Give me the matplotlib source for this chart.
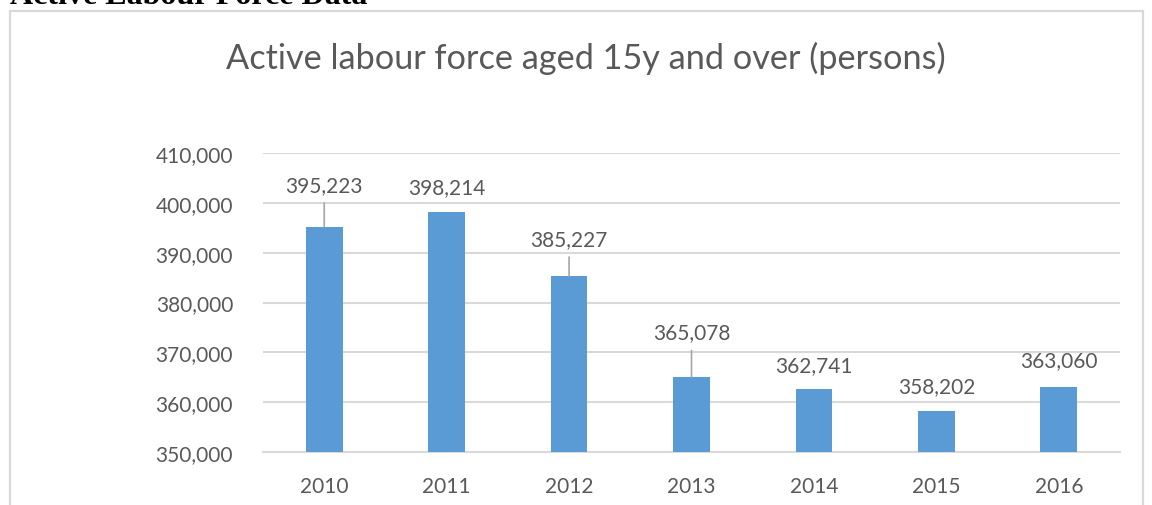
import matplotlib
matplotlib.use("Agg")
import matplotlib.pyplot as plt
from matplotlib.patches import Rectangle
from matplotlib.ticker import FuncFormatter

years = ["2010", "2011", "2012", "2013", "2014", "2015", "2016"]
labour_force = [395223, 398214, 385227, 365078, 362741, 358202, 363060]
y_ticks = [350000, 360000, 370000, 380000, 390000, 400000, 410000]

# label offset above each bar (points) and whether a leader line is drawn
label_offsets = [30, 18, 27, 32, 17, 18, 19]
leaders = [True, False, True, True, False, False, False]

plt.rcParams["font.family"] = ["Lato", "DejaVu Sans"]
text_col = "#595959"
grid_col = "#d9d9d9"
bar_col = "#5b9bd5"

W, H = 1152, 506
fig = plt.figure(figsize=(W / 100, H / 100), dpi=100)

# outer chart frame
fig.patches.append(Rectangle((10 / W, -0.05), (1143 - 10) / W, 1.05 - 12 / H,
                             transform=fig.transFigure, fill=False,
                             edgecolor=grid_col, linewidth=1.6))

# document heading cut at the top edge
fig.text(10 / W, 1 - 4 / H, "Active Labour Force Data", family="Liberation Serif",
         fontweight="bold", fontsize=23, color="black", ha="left", va="baseline")

fig.text(586 / W, 1 - 58 / H, "Active labour force aged 15y and over (persons)",
         fontsize=24.7, color=text_col, ha="center", va="center")

ax = fig.add_axes([263 / W, 1 - 453 / H, (1120 - 263) / W, (453 - 154) / H])
x = range(len(years))
bars = ax.bar(x, labour_force, width=0.3, color=bar_col, zorder=3)

ax.set_xlim(-0.5, len(years) - 0.5)
ax.set_ylim(y_ticks[0], y_ticks[-1])
ax.set_yticks(y_ticks)
ax.yaxis.set_major_formatter(FuncFormatter(lambda v, p: f"{int(v):,}"))
ax.set_xticks(list(x))
ax.set_xticklabels(years)
ax.grid(axis="y", color=grid_col, linewidth=1.5, zorder=0)
for s in ["top", "right", "left"]:
    ax.spines[s].set_visible(False)
ax.spines["bottom"].set_color(grid_col)
ax.spines["bottom"].set_linewidth(1.5)
ax.tick_params(axis="both", length=0, labelsize=15, colors=text_col)
ax.tick_params(axis="y", pad=21.5)
ax.tick_params(axis="x", pad=17.5)

for xi, v, off, lead in zip(x, labour_force, label_offsets, leaders):
    ax.annotate(f"{v:,}", xy=(xi, v), xytext=(0, off), textcoords="offset points",
                ha="center", va="center", fontsize=15, color=text_col)
    if lead:
        ax.annotate("", xy=(xi, v), xytext=(0, off - 13), textcoords="offset points",
                    arrowprops=dict(arrowstyle="-", color="#a6a6a6", lw=1.2,
                                    shrinkA=0, shrinkB=0))

fig.savefig("out.png", dpi=100, facecolor="white")
